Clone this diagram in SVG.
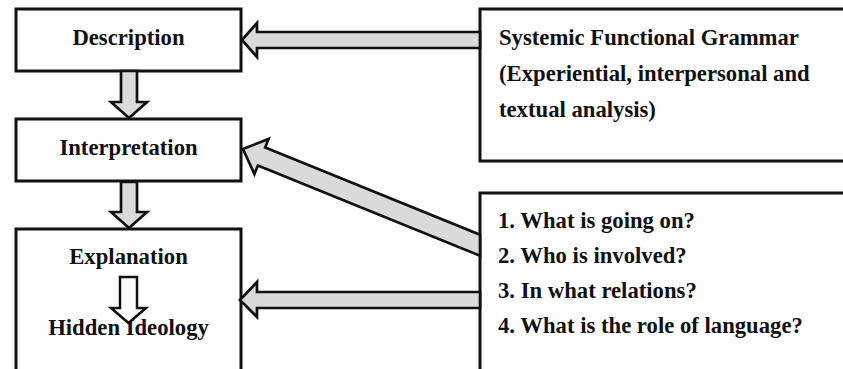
<svg xmlns="http://www.w3.org/2000/svg" width="843" height="369" viewBox="0 0 843 369">
<style>
.box{fill:#fff;stroke:#111;stroke-width:3}
.arr{fill:#dadada;stroke:#111;stroke-width:2.7;stroke-linejoin:miter}
.harr{fill:#fff;stroke:#111;stroke-width:2.5}
text{font-family:"Liberation Serif","Times New Roman",serif;font-weight:bold;font-size:22.7px;fill:#111}
.c{text-anchor:middle}
</style>
<rect width="843" height="369" fill="#fff"/>
<g id="description">
<rect class="box" x="16" y="9" width="225" height="62"/>
<text class="c" x="128.5" y="45">Description</text>
</g>
<g id="interpretation">
<rect class="box" x="16" y="119" width="225" height="62"/>
<text class="c" x="128.5" y="155">Interpretation</text>
</g>
<g id="explanation">
<rect class="box" x="16" y="229" width="225" height="160"/>
<text class="c" x="128.5" y="264">Explanation</text>
<text class="c" x="128.5" y="335">Hidden Ideology</text>
</g>
<g id="sfg">
<rect class="box" x="480" y="9" width="380" height="152"/>
<text x="499" y="45">Systemic Functional Grammar</text>
<text x="499" y="81">(Experiential, interpersonal and</text>
<text x="499" y="117">textual analysis)</text>
</g>
<g id="questions">
<rect class="box" x="480" y="193" width="380" height="200"/>
<text x="498" y="228">1. What is going on?</text>
<text x="498" y="263">2. Who is involved?</text>
<text x="498" y="298">3. In what relations?</text>
<text x="498" y="333">4. What is the role of language?</text>
</g>
<g id="connectors">
<polygon class="arr" points="121,71 137,71 137,102 147,102 129,118 111,102 121,102"/>
<polygon class="arr" points="121,182 137,182 137,212 147,212 129,228 111,212 121,212"/>
<polygon class="harr" points="120,277 137,277 137,308 146,308 128.5,323 111,308 120,308"/>
<polygon class="arr" points="242,40 257,23 257,32 480,32 480,48 257,48 257,57"/>
<polygon class="arr" points="240,300 257,282 257,292 480,292 480,308 257,308 257,317"/>
<polygon class="arr" points="243,149 268.6,138.9 265.2,147.5 480,234.7 480,255.7 257.9,165.5 254.4,174.1"/>
</g>
</svg>
